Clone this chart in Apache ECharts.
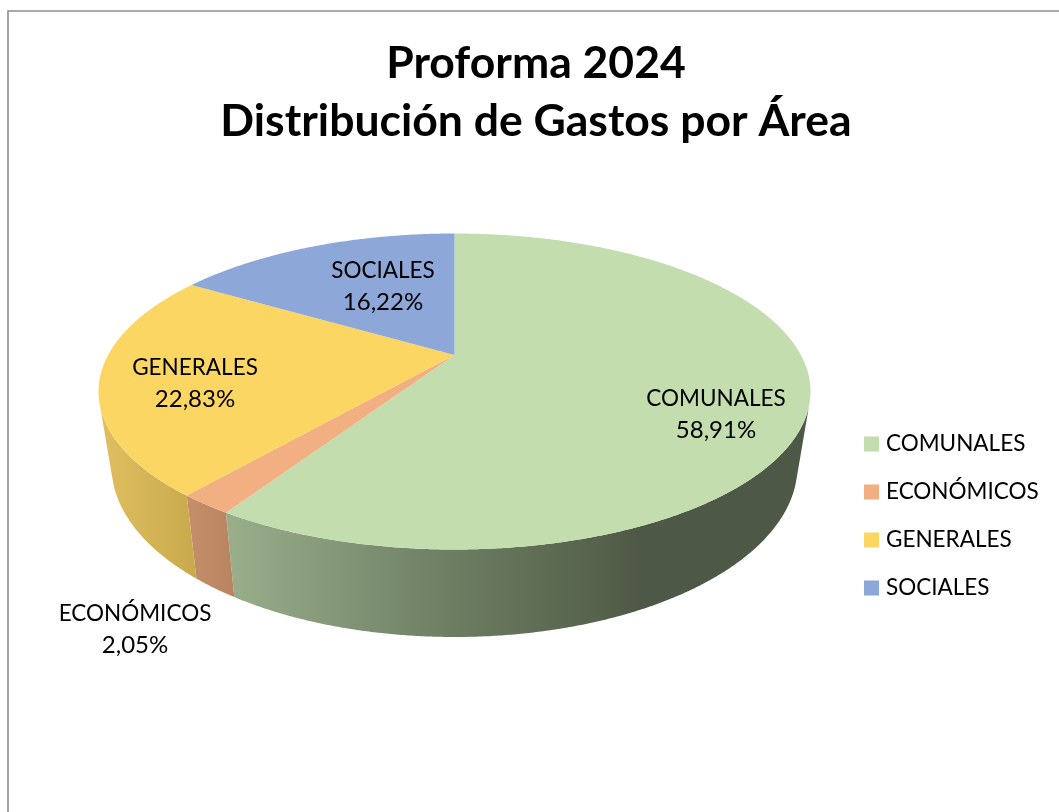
<!DOCTYPE html>
<html>
<head>
<meta charset="utf-8">
<style>html,body{margin:0;padding:0;background:#fff;overflow:hidden}#c{width:1059px;height:812px}</style>
<script src="https://cdn.jsdelivr.net/npm/echarts@6/dist/echarts.min.js"></script>
</head>
<body>
<div id="c"></div>
<script>
// ---- data ----
const categories = ['COMUNALES', 'ECONÓMICOS', 'GENERALES', 'SOCIALES'];
const shares = [58.91, 2.05, 22.83, 16.22];
const titleLines = ['Proforma 2024', 'Distribución de Gastos por Área'];

// ---- styles ----
const topColors = ['#C4DDAF', '#F1AF82', '#FCD663', '#8DA7D9'];
const wallStops = [
  [[234, '#98AD8A'], [450, '#6D7E63'], [600, '#56624C'], [640, '#4E5846'], [811, '#4E5846']],
  [[190, '#C48E69'], [235, '#B8835F']],
  [[100, '#DFBF60'], [196, '#C8AA4C']],
  [[0, '#6B7FA5'], [1059, '#6B7FA5']]
];
// label anchors (centre of the first line), by category
const labelAnchors = [[716, 398.5], [135, 613.5], [195, 367.5], [383, 270.5]];

// ---- 3D pie geometry ----
const topDisc = {cx: 454.5, cy: 391.5, rx: 356, ry: 158};
const baseDisc = {cx: 454.5, cy: 466, rx: 343, ry: 171};
const tilt = -0.231;       // perspective shift of the pie's apex
const wallFrom = 0.09;     // where the side wall becomes visible
const total = shares.reduce((a, b) => a + b, 0);

function project(deg) {
  const t = deg * Math.PI / 180, x = Math.sin(t), y = -Math.cos(t), d = 1 + tilt * y;
  return [x * Math.sqrt(1 - tilt * tilt) / d, (y + tilt) / d];
}
const onDisc = (disc, p) => [disc.cx + disc.rx * p[0], disc.cy + disc.ry * p[1]];

function arc(a0, a1) {
  const out = [], n = Math.max(2, Math.ceil((a1 - a0) * 3));
  for (let i = 0; i <= n; i++) out.push(project(a0 + (a1 - a0) * i / n));
  return out;
}

function renderSlice(index) {
  let before = 0;
  for (let i = 0; i < index; i++) before += shares[i];
  const a0 = before / total * 360, a1 = (before + shares[index]) / total * 360;
  const pts = arc(a0, a1);
  const children = [];

  const vis = pts.filter(p => p[1] >= wallFrom);
  if (vis.length > 1) {
    const xs = wallStops[index][0][0], xe = wallStops[index][wallStops[index].length - 1][0];
    const stops = wallStops[index].map(s => ({offset: (s[0] - xs) / (xe - xs), color: s[1]}));
    children.push({
      type: 'polygon', z2: 1,
      shape: {points: vis.map(p => onDisc(topDisc, p)).concat(vis.slice().reverse().map(p => onDisc(baseDisc, p)))},
      style: {fill: new echarts.graphic.LinearGradient(xs, 0, xe, 0, stops, true)}
    });
  }
  const apex = onDisc(topDisc, [0, tilt]);
  children.push({
    type: 'polygon', z2: 2,
    shape: {points: [apex].concat(pts.map(p => onDisc(topDisc, p)))},
    style: {fill: topColors[index]}
  });
  const anchor = labelAnchors[index];
  [categories[index], shares[index].toFixed(2).replace('.', ',') + '%'].forEach((txt, k) => {
    children.push({
      type: 'text', z2: 3, silent: true,
      style: {
        x: anchor[0], y: anchor[1] + k * 32, text: txt,
        fill: '#000', font: k ? '400 24px Lato' : '400 22.5px Lato', align: 'center', verticalAlign: 'middle'
      }
    });
  });
  return {type: 'group', children};
}

const chart = echarts.init(document.getElementById('c'), null, {renderer: 'canvas'});
chart.setOption({
  animation: false,
  backgroundColor: '#fff',
  title: {
    text: titleLines.join('\n'),
    left: 531, top: 30, textAlign: 'center',
    textStyle: {fontFamily: 'Lato', fontWeight: 700, fontSize: 44.5, lineHeight: 58, color: '#000'}
  },
  legend: {
    orient: 'vertical', left: 864, top: 430, padding: 0,
    icon: 'rect', itemWidth: 15, itemHeight: 15, itemGap: 20,
    data: categories,
    selectedMode: false,
    textStyle: {fontFamily: 'Lato', fontSize: 22.5, color: '#000', lineHeight: 28, padding: [0, 0, 0, 2]}
  },
  graphic: [{
    type: 'polyline', silent: true,
    shape: {points: [[8, 812], [8, 11], [1059, 11]]},
    style: {stroke: '#8E8E8E', lineWidth: 1.6, fill: null}
  }],
  series: categories.map((name, i) => ({
    type: 'custom', name, coordinateSystem: 'none',
    itemStyle: {color: topColors[i]},
    data: [[shares[i]]],
    silent: true,
    renderItem: () => renderSlice(i)
  }))
});
</script>
</body>
</html>
